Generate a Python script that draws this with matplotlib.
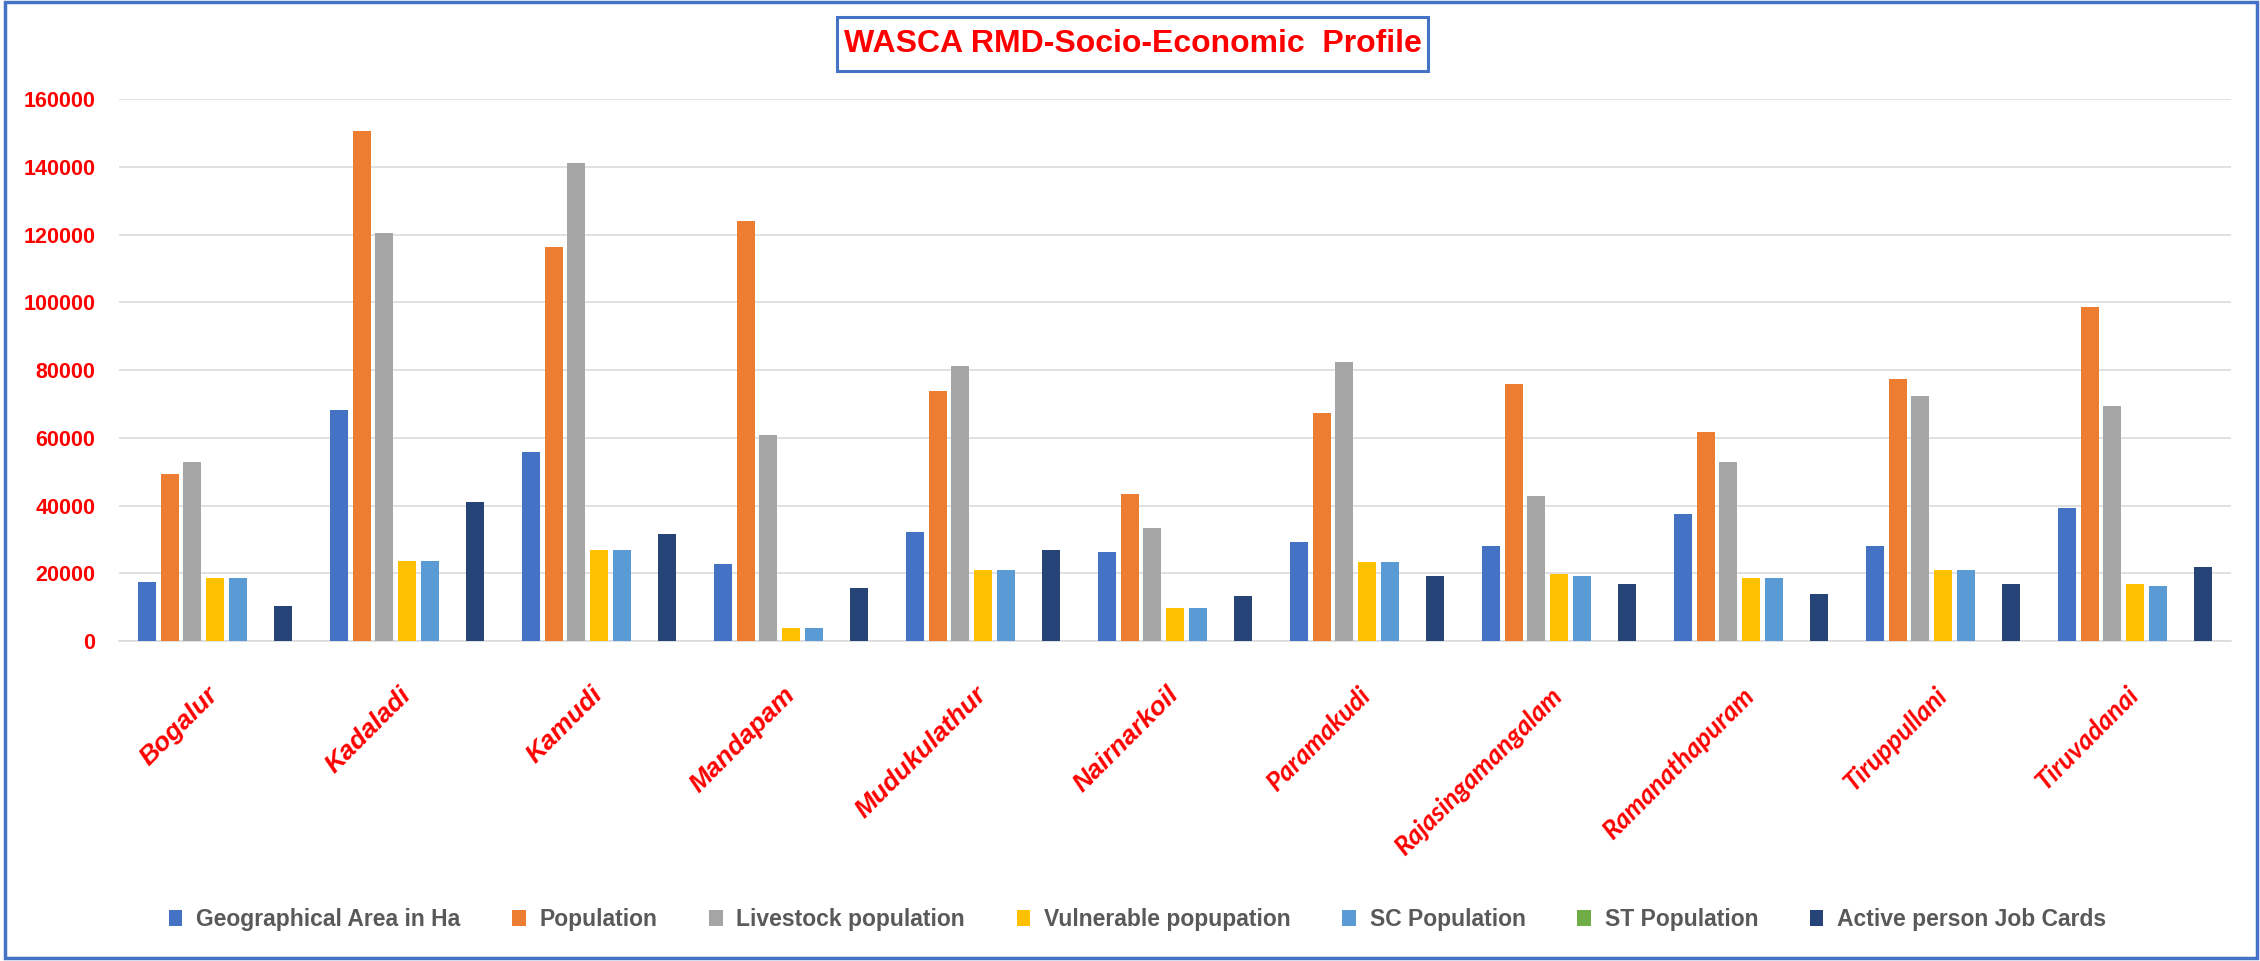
import numpy as np
import matplotlib
matplotlib.use("Agg")
import matplotlib.pyplot as plt
from matplotlib.patches import Rectangle

plt.rcParams['font.family'] = ['Liberation Sans', 'DejaVu Sans']

# blocks of the district
blocks = ['Bogalur', 'Kadaladi', 'Kamudi', 'Mandapam', 'Mudukulathur', 'Nairnarkoil',
          'Paramakudi', 'Rajasingamangalam', 'Ramanathapuram', 'Tiruppullani', 'Tiruvadanai']

geo_area = [17400, 68100, 55700, 22800, 32200, 26200, 29200, 28000, 37500, 28000, 39200]
population = [49300, 150600, 116400, 124200, 74000, 43400, 67500, 75800, 61600, 77500, 98800]
livestock = [52800, 120600, 141200, 61000, 81100, 33400, 82300, 42700, 52800, 72300, 69300]
vulnerable = [18600, 23700, 26800, 3900, 20900, 9800, 23300, 19700, 18600, 20900, 16700]
sc_pop = [18600, 23700, 26800, 3900, 20900, 9800, 23300, 19200, 18600, 20900, 16100]
st_pop = [0, 0, 0, 0, 0, 0, 0, 0, 0, 0, 0]
job_cards = [10400, 41000, 31600, 15700, 26800, 13300, 19200, 16800, 13800, 16700, 22000]

series_names = ['Geographical Area in Ha', 'Population', 'Livestock population',
                'Vulnerable popupation', 'SC Population', 'ST Population',
                'Active person Job Cards']
series_values = [geo_area, population, livestock, vulnerable, sc_pop, st_pop, job_cards]
colors = ['#4472C4', '#ED7D31', '#A5A5A5', '#FFC000', '#5B9BD5', '#70AD47', '#264478']

yticks = [0, 20000, 40000, 60000, 80000, 100000, 120000, 140000, 160000]

fig = plt.figure(figsize=(22.6, 9.61), dpi=100)
ax = fig.add_axes([0.05265, 0.33299, 0.93451, 0.56358])

x = np.arange(len(blocks))
pitch = 0.118
width = 0.094
for i, (name, vals, col) in enumerate(zip(series_names, series_values, colors)):
    ax.bar(x + (i - 3) * pitch, vals, width, color=col, label=name, zorder=3)

ax.set_xlim(-0.5, len(blocks) - 0.5)
ax.set_ylim(0, 160000)
ax.set_yticks(yticks)
ax.set_yticklabels([str(t) for t in yticks])
ax.grid(axis='y', color='#D9D9D9', linewidth=1.1, zorder=0)
ax.set_axisbelow(True)
for s in ['top', 'right', 'left']:
    ax.spines[s].set_visible(False)
ax.spines['bottom'].set_color('#D9D9D9')
ax.spines['bottom'].set_linewidth(1.1)
ax.tick_params(axis='both', length=0)
ax.tick_params(axis='y', pad=17, labelsize=15.5, labelcolor='#FF0000')
ax.tick_params(axis='x', pad=36)
for lbl in ax.get_yticklabels():
    lbl.set_fontweight('bold')

ax.set_xticks(x)
ax.set_xticklabels(blocks)
plt.setp(ax.get_xticklabels(), rotation=45, ha='right', va='center',
         rotation_mode='anchor', color='#FF0000', fontsize=19,
         fontweight='bold', fontstyle='italic')
# the right-hand labels are set in a narrower face in the original
for lbl in ax.get_xticklabels()[6:]:
    lbl.set_fontfamily(['Lato', 'DejaVu Sans'])

# legend at the bottom
fig.legend(loc='center', bbox_to_anchor=(0.5033, 0.0427), ncol=7, frameon=False,
           prop={'size': 16.5, 'weight': 'bold'}, labelcolor='#595959',
           handlelength=0.6, handleheight=0.7, handletextpad=0.6, columnspacing=2.25)

# title with box
W, H = 2260.0, 961.0
fig.patches.append(Rectangle((837 / W, 1 - 70.5 / H), (1428 - 837) / W, (70.5 - 17) / H,
                             transform=fig.transFigure, fill=False,
                             edgecolor='#4472C4', linewidth=2.2))
fig.text(1132.5 / W, 1 - 44 / H, 'WASCA RMD-Socio-Economic  Profile', ha='center',
         va='center', color='#FF0000', fontsize=23, fontweight='bold')

# outer frame
fig.patches.append(Rectangle((5 / W, 3 / H), (2257 - 5) / W, (959 - 3) / H,
                             transform=fig.transFigure, fill=False,
                             edgecolor='#4472C4', linewidth=2.5))

fig.savefig('out.png', dpi=100)
